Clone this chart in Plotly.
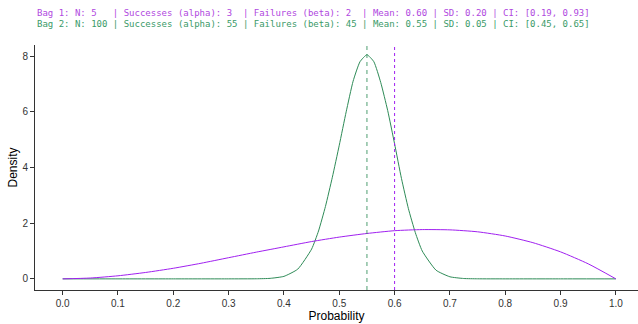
import plotly.graph_objects as go

# Bag 1: Beta(3, 2) density
bag1_x = [0.0, 0.05, 0.1, 0.15, 0.2, 0.25, 0.3, 0.35, 0.4, 0.45, 0.5,
          0.55, 0.6, 0.65, 0.7, 0.75, 0.8, 0.85, 0.9, 0.95, 1.0]
bag1_y = [0.0, 0.03, 0.11, 0.23, 0.38, 0.56, 0.76, 0.96, 1.15, 1.34, 1.50,
          1.63, 1.73, 1.77, 1.76, 1.69, 1.54, 1.30, 0.97, 0.54, 0.0]

# Bag 2: Beta(55, 45) density
bag2_x = [0.0, 0.1, 0.2, 0.3, 0.35, 0.375, 0.4, 0.425, 0.45, 0.4625, 0.475,
          0.4875, 0.5, 0.5125, 0.525, 0.5375, 0.55, 0.5625, 0.575, 0.5875,
          0.6, 0.6125, 0.625, 0.6375, 0.65, 0.675, 0.7, 0.725, 0.75,
          0.8, 0.9, 1.0]
bag2_y = [0.0, 0.0, 0.0, 0.0, 0.003, 0.018, 0.09, 0.35, 1.07, 1.72, 2.6,
          3.65, 4.8, 6.0, 7.1, 7.8, 8.05, 7.8, 7.05, 6.05,
          4.85, 3.6, 2.52, 1.66, 1.0, 0.31, 0.075, 0.013, 0.002,
          0.0, 0.0, 0.0]

bag1_mean = 0.60
bag2_mean = 0.55

x_ticks = [0.0, 0.1, 0.2, 0.3, 0.4, 0.5, 0.6, 0.7, 0.8, 0.9, 1.0]
y_ticks = [0, 2, 4, 6, 8]

title_lines = [
    "Bag 1: N: 5   | Successes (alpha): 3  | Failures (beta): 2  | Mean: 0.60 | SD: 0.20 | CI: [0.19, 0.93]",
    "Bag 2: N: 100 | Successes (alpha): 55 | Failures (beta): 45 | Mean: 0.55 | SD: 0.05 | CI: [0.45, 0.65]",
]

PURPLE = "#a020f0"
GREEN = "#2e8b57"

fig = go.Figure()
fig.add_trace(go.Scatter(x=bag2_x, y=bag2_y, mode="lines",
                         line=dict(color=GREEN, width=1, shape="spline", smoothing=0.5),
                         hoverinfo="skip"))
fig.add_trace(go.Scatter(x=bag1_x, y=bag1_y, mode="lines",
                         line=dict(color=PURPLE, width=1, shape="spline", smoothing=0.6),
                         hoverinfo="skip"))

fig.add_shape(type="line", xref="x", yref="paper", x0=bag2_mean, x1=bag2_mean,
              y0=0, y1=1, line=dict(color="rgba(46,139,87,0.7)", width=1.2, dash="4px,4px"))
fig.add_shape(type="line", xref="x", yref="paper", x0=bag1_mean, x1=bag1_mean,
              y0=0, y1=1, line=dict(color=PURPLE, width=1, dash="3px,3px"))

fig.add_annotation(xref="paper", yref="paper", x=0, y=1.13, xanchor="left", yanchor="middle",
                   text=title_lines[0], showarrow=False,
                   font=dict(family="DejaVu Sans Mono", size=9, color="#b048e0"))
fig.add_annotation(xref="paper", yref="paper", x=0, y=1.086, xanchor="left", yanchor="middle",
                   text=title_lines[1], showarrow=False,
                   font=dict(family="DejaVu Sans Mono", size=9, color="#3a9a68"))

axis_font = dict(family="Liberation Sans, Arial", size=10, color="#333333")
fig.update_layout(
    width=638, height=324,
    margin=dict(l=35, r=0, t=45, b=34),
    plot_bgcolor="white", paper_bgcolor="white",
    showlegend=False,
    xaxis=dict(range=[-0.05, 1.04], tickvals=x_ticks,
               ticktext=[f"{v:.1f}" for v in x_ticks],
               showgrid=False, zeroline=False, showline=True, linecolor="#333333",
               linewidth=1, ticks="outside", ticklen=4, tickcolor="#333333",
               tickfont=axis_font, automargin=False,
               title=dict(text="Probability", standoff=2,
                          font=dict(family="Liberation Sans, Arial", size=12, color="black"))),
    yaxis=dict(range=[-0.4, 8.4], tickvals=y_ticks,
               showgrid=False, zeroline=False, showline=True, linecolor="#333333",
               linewidth=1, ticks="outside", ticklen=4, tickcolor="#333333",
               tickfont=axis_font, automargin=False,
               title=dict(text="Density", standoff=2,
                          font=dict(family="Liberation Sans, Arial", size=12, color="black"))),
)

fig.write_html("out.html", config={"displayModeBar": False},
               post_script="document.body.style.margin='0';")
